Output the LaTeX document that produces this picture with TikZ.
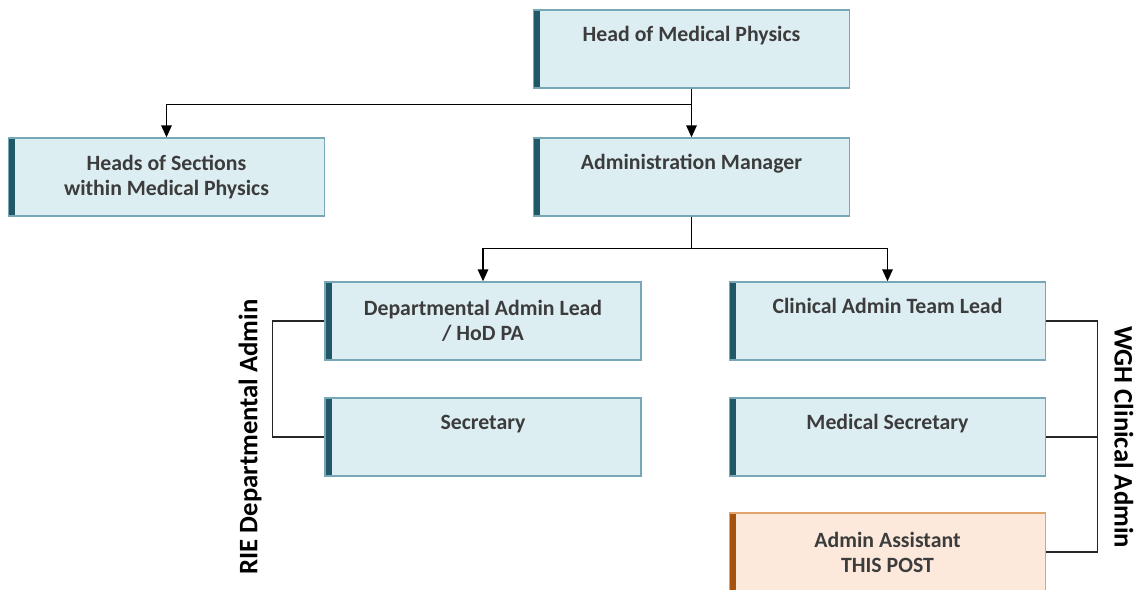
\documentclass[tikz,border=0pt]{standalone}
\usepackage{fontspec}
\setmainfont{Carlito}
\usepackage{tikz}
\usetikzlibrary{positioning, arrows.meta}

\definecolor{boxfill}{HTML}{DDEEF3}
\definecolor{boxline}{HTML}{78A8B8}
\definecolor{boxbar}{HTML}{215868}
\definecolor{postfill}{HTML}{FCE9DC}
\definecolor{postline}{HTML}{E3A36F}
\definecolor{postbar}{HTML}{A5520F}
\definecolor{boxtext}{HTML}{3C3C3C}

\begin{document}
\begin{tikzpicture}[
    x=0.025cm, y=-0.025cm,
    role/.style={draw=boxline, fill=boxfill, line width=1pt, minimum width=7.9cm, minimum height=1.95cm,
        align=center, text=boxtext, font=\fontsize{15.5}{17.8}\selectfont\bfseries,
        path picture={\fill[boxbar] (path picture bounding box.north west) rectangle ([xshift=0.17cm]path picture bounding box.south west);}},
    single/.style={text depth=21.5pt},
    post/.style={role, draw=postline, fill=postfill,
        path picture={\fill[postbar] (path picture bounding box.north west) rectangle ([xshift=0.17cm]path picture bounding box.south west);}},
    arr/.style={-{Triangle[length=8.5pt, width=7.5pt]}, line width=1pt},
    link/.style={line width=1pt, draw=black!85},
    group/.style={font=\fontsize{19}{22}\selectfont\bfseries},
]

\useasboundingbox (0,0) rectangle (1134,590);

% --- top levels ---
\node[role, single] (head) at (691.5, 49) {Head of Medical Physics};
\node[role] (sections) at (166.5, 177) {Heads of Sections\\within Medical Physics};
\node[role, single] (manager) at (691.5, 177) {Administration Manager};

% --- RIE side ---
\node[role] (deptlead) at (483, 321) {Departmental Admin Lead\\/ HoD PA};
\node[role, single] (secretary) at (483, 437) {Secretary};

% --- WGH side ---
\node[role, single] (clinlead) at (887.5, 321) {Clinical Admin Team Lead};
\node[role, single] (medsec) at (887.5, 437) {Medical Secretary};
\node[post] (assistant) at (887.5, 552) {Admin Assistant\\THIS POST};

% reporting lines
\draw[arr] (head.south) -- ++(0,16) -| (sections.north);
\draw[arr] (head) -- (manager);
\draw[arr] (manager.south) -- ++(0,32) -| (deptlead.north);
\draw[arr] (manager.south) -- ++(0,32) -| (clinlead.north);

% --- group brackets ---
\draw[link] (deptlead.west) -- ++(-52,0) |- (secretary.west);
\draw[link] (clinlead.east) -- ++(51,0) |- (assistant.east);
\draw[link] (medsec.east) -- ++(51,0);

\node[group, rotate=90] (rie) at (250, 437) {RIE Departmental Admin};
\node[group, rotate=-90] (wgh) at (1124, 437) {WGH Clinical Admin};

\end{tikzpicture}
\end{document}
